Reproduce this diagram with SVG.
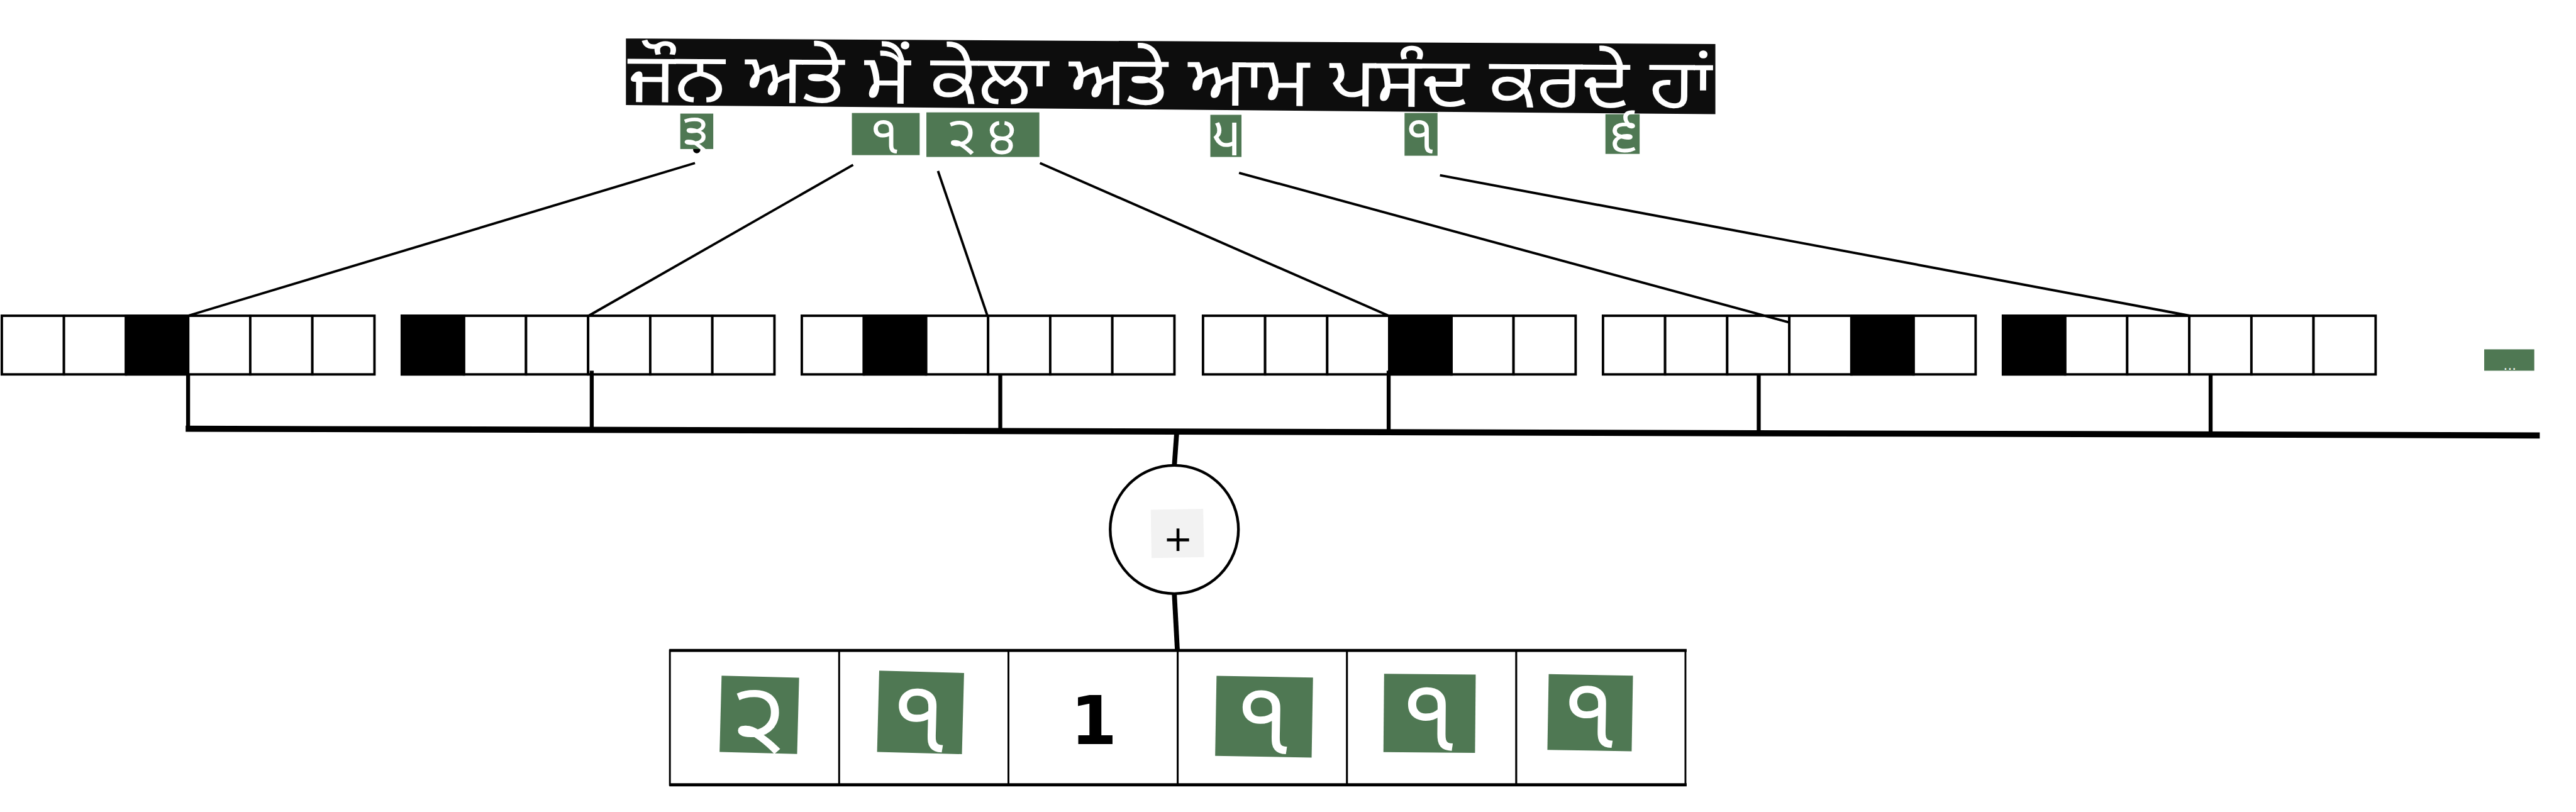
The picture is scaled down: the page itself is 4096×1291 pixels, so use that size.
<svg xmlns="http://www.w3.org/2000/svg" width="4096" height="1291" viewBox="0 0 4096 1291">
<defs>
<style>
.cell{fill:#fff;stroke:#000;stroke-width:4}
.blk{fill:#000;stroke:#000;stroke-width:4}
.lab{fill:#4f7853}
.labt{fill:#fff;font-family:"Noto Sans Gurmukhi","Noto Sans","DejaVu Sans",sans-serif;text-anchor:middle}
.con{stroke:#000;stroke-width:4;fill:none;stroke-linecap:butt}
.drop{stroke:#000;stroke-width:6.5;fill:none}
.bcell{fill:#fff;stroke:#000;stroke-width:3}
</style>
<g id="arr6">
<rect class="cell" x="0" y="0" width="101.7" height="96"/>
<rect class="cell" x="101.7" y="0" width="101.7" height="96"/>
<rect class="cell" x="203.4" y="0" width="101.7" height="96"/>
<rect class="cell" x="305.1" y="0" width="101.7" height="96"/>
<rect class="cell" x="406.8" y="0" width="101.7" height="96"/>
<rect class="cell" x="508.5" y="0" width="101.7" height="96"/>
</g>
</defs>
<rect width="4096" height="1291" fill="#fff"/>
<g transform="scale(0.971)">
<g id="sentence">
<polygon points="1025,63 2809,72 2809,187 1025,172" fill="#0d0d0d"/>
<text x="1028" y="167" transform="rotate(0.35 1028 167)" font-family="'Noto Sans Gurmukhi','Noto Sans','DejaVu Sans',sans-serif" font-size="114" fill="#fff" textLength="1776" lengthAdjust="spacingAndGlyphs">ਜੌਨ ਅਤੇ ਮੈਂ ਕੇਲਾ ਅਤੇ ਆਮ ਪਸੰਦ ਕਰਦੇ ਹਾਂ</text>
</g>
<g id="labels">
<g id="lab1"><circle cx="1141" cy="245" r="6" fill="#000"/><rect class="lab" x="1114" y="186" width="54" height="58"/><text class="labt" x="1139" y="243" font-size="80">੩</text></g>
<g id="lab2"><rect class="lab" x="1395" y="185" width="111" height="69"/><text class="labt" x="1449" y="251" font-size="86">੧</text></g>
<g id="lab3"><rect class="lab" x="1517" y="184" width="185" height="73"/><text class="labt" x="1617" y="252" font-size="86" letter-spacing="18">੨੪</text></g>
<g id="lab4"><rect class="lab" x="1982" y="188" width="51" height="69"/><text class="labt" x="2008" y="254" font-size="86">੫</text></g>
<g id="lab5"><rect class="lab" x="2300" y="185" width="54" height="70"/><text class="labt" x="2326" y="251" font-size="86">੧</text></g>
<g id="lab6"><rect class="lab" x="2629" y="187" width="56" height="65"/><text class="labt" x="2658" y="248" font-size="86">੬</text></g>
</g>
<g id="arrays">
<g id="array1" transform="translate(3,517)"><use href="#arr6"/><rect class="blk" x="203.4" y="0" width="101.7" height="96"/></g>
<g id="array2" transform="translate(658,517)"><use href="#arr6"/><rect class="blk" x="0" y="0" width="101.7" height="96"/></g>
<g id="array3" transform="translate(1313,517)"><use href="#arr6"/><rect class="blk" x="101.7" y="0" width="101.7" height="96"/></g>
<g id="array4" transform="translate(1970,517)"><use href="#arr6"/><rect class="blk" x="305.1" y="0" width="101.7" height="96"/></g>
<g id="array5" transform="translate(2625,517)"><use href="#arr6"/><rect class="blk" x="406.8" y="0" width="101.7" height="96"/></g>
<g id="array6" transform="translate(3280,517)"><use href="#arr6"/><rect class="blk" x="0" y="0" width="101.7" height="96"/></g>
</g>
<g id="more"><rect class="lab" x="4068" y="572" width="82" height="35"/><text x="4110" y="606" font-family="'DejaVu Sans',sans-serif" font-size="22" fill="#fff" text-anchor="middle">...</text></g>
<g id="sum">
<circle cx="1923" cy="867" r="105" fill="#fff" stroke="#000" stroke-width="4.5"/>
<rect x="1885" y="834" width="86" height="79" fill="#f2f2f2" transform="rotate(-1 1928 873)"/>
<text x="1929" y="902" font-family="'DejaVu Sans',sans-serif" font-size="58" fill="#000" text-anchor="middle">+</text>
</g>
<g id="result">
<rect class="bcell" x="1097" y="1065" width="277.2" height="220"/>
<rect class="bcell" x="1374.2" y="1065" width="277.2" height="220"/>
<rect class="bcell" x="1651.4" y="1065" width="277.2" height="220"/>
<rect class="bcell" x="1928.6" y="1065" width="277.2" height="220"/>
<rect class="bcell" x="2205.8" y="1065" width="277.2" height="220"/>
<rect class="bcell" x="2483" y="1065" width="277" height="220"/>
<line x1="1096" y1="1065" x2="2762" y2="1065" stroke="#000" stroke-width="5"/>
<line x1="1096" y1="1285" x2="2762" y2="1285" stroke="#000" stroke-width="5"/>
<g transform="rotate(1.5 1243 1170)"><rect class="lab" x="1180" y="1108" width="127" height="125"/><text class="labt" x="1243" y="1231" font-size="160">੨</text></g>
<g transform="rotate(1.5 1507 1166)"><rect class="lab" x="1438" y="1100" width="139" height="133"/><text class="labt" x="1507" y="1231" font-size="164">੧</text></g>
<text x="1791" y="1218" font-family="'DejaVu Sans',sans-serif" font-weight="bold" font-size="110" fill="#000" text-anchor="middle">1</text>
<g transform="rotate(1 2070 1173)"><rect class="lab" x="1991" y="1108" width="158" height="131"/><text class="labt" x="2070" y="1234" font-size="164">੧</text></g>
<g transform="rotate(0.5 2341 1168)"><rect class="lab" x="2266" y="1104" width="150" height="128"/><text class="labt" x="2341" y="1229" font-size="164">੧</text></g>
<g transform="rotate(1 2604 1167)"><rect class="lab" x="2535" y="1105" width="138" height="124"/><text class="labt" x="2604" y="1224" font-size="160">੧</text></g>
</g>
<g id="connectors">
<line class="con" x1="1138" y1="267" x2="308" y2="517"/>
<line class="con" x1="1397" y1="270" x2="964" y2="517"/>
<line class="con" x1="1536" y1="280" x2="1617" y2="517"/>
<line class="con" x1="1703" y1="267" x2="2274" y2="517"/>
<line class="con" x1="2029" y1="283" x2="2930" y2="528"/>
<line class="con" x1="2358" y1="287" x2="3586" y2="517"/>
<line class="drop" x1="308" y1="613" x2="308" y2="702"/>
<line class="drop" x1="969" y1="607" x2="969" y2="702"/>
<line class="drop" x1="1638" y1="613" x2="1638" y2="703"/>
<line class="drop" x1="2274" y1="607" x2="2274" y2="705"/>
<line class="drop" x1="2880" y1="613" x2="2880" y2="707"/>
<line class="drop" x1="3620" y1="613" x2="3620" y2="709"/>
<line x1="304" y1="702" x2="4159" y2="713" stroke="#000" stroke-width="10"/>
<line x1="1927" y1="707" x2="1923" y2="763" stroke="#000" stroke-width="8"/>
<line x1="1923" y1="972" x2="1928" y2="1065" stroke="#000" stroke-width="8"/>
</g>
</g>
</svg>
